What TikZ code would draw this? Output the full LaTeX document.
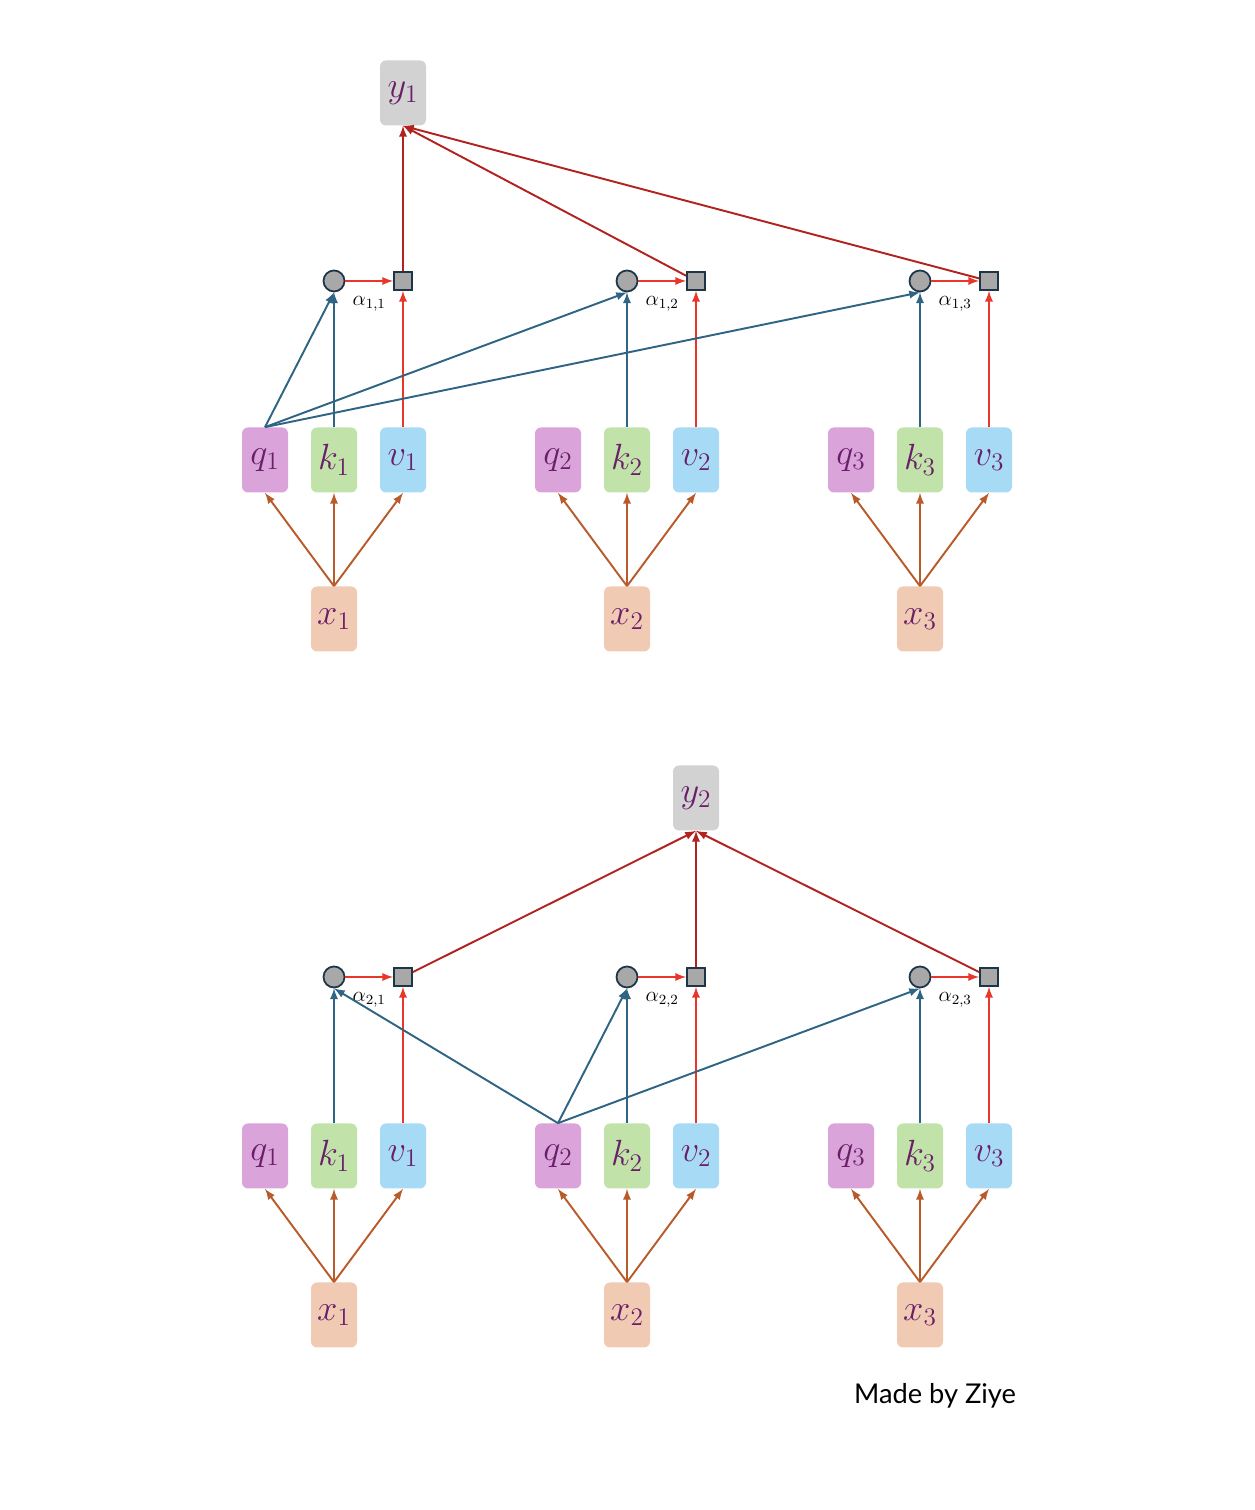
\documentclass[tikz,border=0pt]{standalone}
\usepackage{fontspec}
\newfontfamily\signfont{Lato}
\usepackage{xcolor}
\usetikzlibrary{arrows}
\usetikzlibrary{shapes}

\definecolor{qfill}{HTML}{DAA4DA}
\definecolor{kfill}{HTML}{C1E3A9}
\definecolor{vfill}{HTML}{A7DAF4}
\definecolor{xfill}{HTML}{F0CAB2}
\definecolor{yfill}{HTML}{D2D2D2}
\definecolor{txtpurple}{HTML}{6A1F6A}
\definecolor{opgrey}{HTML}{A8A8A8}
\definecolor{opline}{HTML}{1E3447}
\definecolor{inorange}{HTML}{B95A2B}
\definecolor{keyblue}{HTML}{2F6484}
\definecolor{valred}{HTML}{E8362B}
\definecolor{outred}{HTML}{B0231F}

\tikzset{
vec/.style={rectangle,rounded corners=0.12cm,minimum width=0.92cm,minimum height=1.3cm,inner sep=0pt,text=txtpurple,font=\fontsize{22}{24}\selectfont},
dot/.style={circle,draw=opline,fill=opgrey,line width=1pt,minimum size=0.42cm,inner sep=0pt},
sq/.style={rectangle,draw=opline,fill=opgrey,line width=1pt,minimum size=0.36cm,inner sep=0pt},
inarr/.style={-latex,draw=inorange,line width=1.1pt},
keyarr/.style={-latex,draw=keyblue,line width=1.1pt},
valarr/.style={-latex,draw=valred,line width=1.1pt},
outarr/.style={-latex,draw=outred,line width=1.1pt}
}

\begin{document}
\begin{tikzpicture}
\useasboundingbox (0,0) rectangle (25.08,30.2);
% two panels, three tokens each
\foreach \p/\i/\dy in {a/1/0,b/2/-13.92}
\foreach \g/\gx in {1/6.68,2/12.54,3/18.40}
{
\node[vec,fill=qfill] (q\p\g) at (\gx-1.38,21.0+\dy) {$q_\g$};
\node[vec,fill=kfill] (k\p\g) at (\gx,21.0+\dy) {$k_\g$};
\node[vec,fill=vfill] (v\p\g) at (\gx+1.38,21.0+\dy) {$v_\g$};
\node[vec,fill=xfill] (x\p\g) at (\gx,17.82+\dy) {$x_\g$};
\node[dot] (c\p\g) at (\gx,24.58+\dy) {};
\node[sq] (s\p\g) at (\gx+1.38,24.58+\dy) {};
}
\node[vec,fill=yfill] (ya) at (8.06,28.34) {$y_1$};
\node[vec,fill=yfill] (yb) at (13.92,14.24) {$y_2$};

% connectors
\foreach \p/\i in {a/1,b/2}
\foreach \g in {1,2,3}
{
\draw[inarr] (x\p\g.north) -- (q\p\g.south);
\draw[inarr] (x\p\g.north) -- (k\p\g.south);
\draw[inarr] (x\p\g.north) -- (v\p\g.south);
\draw[keyarr] (k\p\g.north) -- (c\p\g.south);
\draw[valarr] (v\p\g.north) -- (s\p\g.south);
\draw[valarr] (c\p\g) -- (s\p\g) node[midway,below=5pt,font=\fontsize{11.5}{13}\selectfont] {$\alpha_{\i,\g}$};
\draw[outarr] (s\p\g) -- (y\p.south);
\draw[keyarr] (q\p\i.north) -- (c\p\g.south);
}

\node (sign) at (18.7,2.28) {\signfont\fontsize{15.5}{17}\selectfont Made by Ziye};
\end{tikzpicture}
\end{document}
